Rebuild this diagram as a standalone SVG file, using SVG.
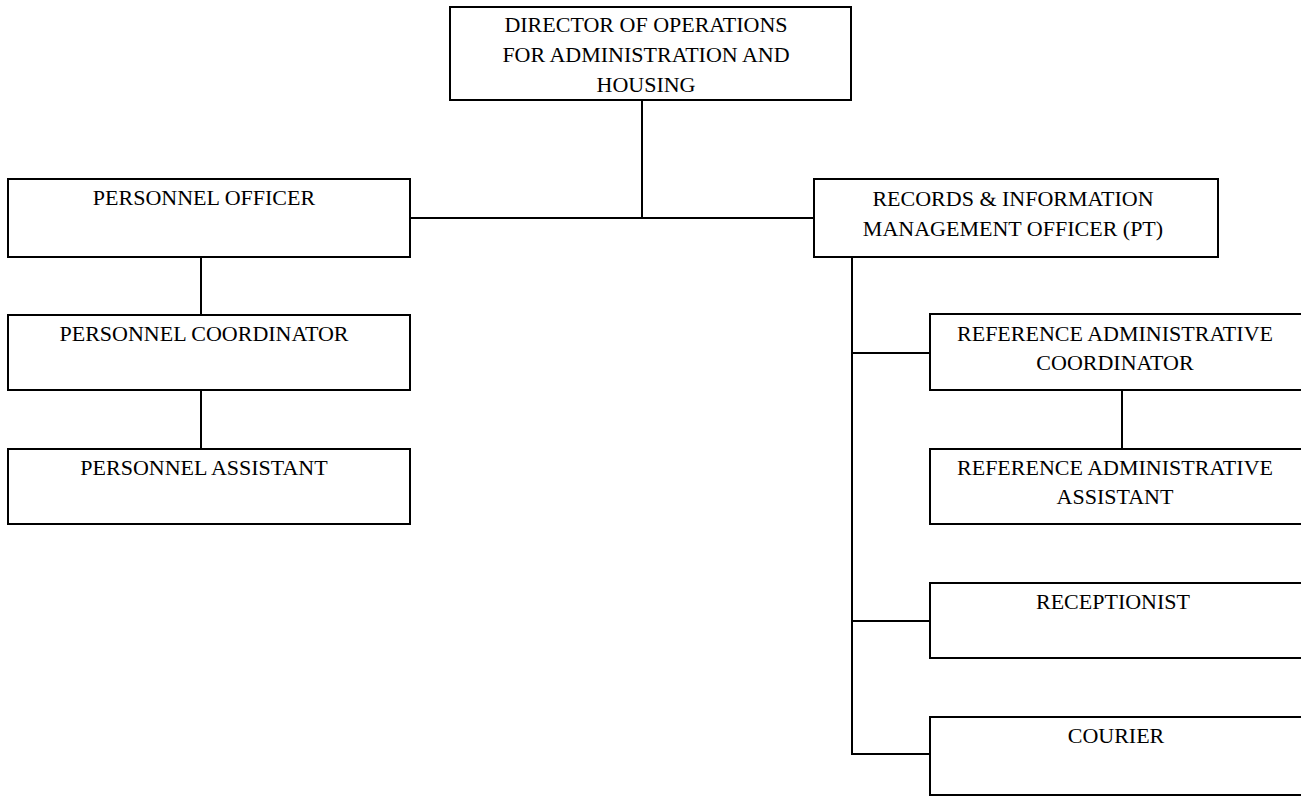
<svg xmlns="http://www.w3.org/2000/svg" width="1301" height="797" viewBox="0 0 1301 797">
  <style>
    .box { fill: #ffffff; stroke: #000000; stroke-width: 2; }
    .conn { fill: none; stroke: #000000; stroke-width: 2; }
    text { font-family: "Liberation Serif", "Times New Roman", serif; font-size: 22px; fill: #000000; text-anchor: middle; }
  </style>
  <rect x="0" y="0" width="1301" height="797" fill="#ffffff"/>
  <g id="connectors">
    <path class="conn" d="M642,100 V218 M410,218 H814"/>
    <path class="conn" d="M201,257 V315 M201,390 V449"/>
    <path class="conn" d="M852,257 V754 H930 M852,353 H930 M852,621 H930"/>
    <path class="conn" d="M1122,390 V449"/>
  </g>
  <g id="director">
    <rect class="box" x="450" y="7" width="401" height="93"/>
    <text x="646" y="32">DIRECTOR OF OPERATIONS</text>
    <text x="646" y="62">FOR ADMINISTRATION AND</text>
    <text x="646" y="92">HOUSING</text>
  </g>
  <g id="personnel-officer">
    <rect class="box" x="8" y="179" width="402" height="78"/>
    <text x="204" y="205">PERSONNEL OFFICER</text>
  </g>
  <g id="personnel-coordinator">
    <rect class="box" x="8" y="315" width="402" height="75"/>
    <text x="204" y="341">PERSONNEL COORDINATOR</text>
  </g>
  <g id="personnel-assistant">
    <rect class="box" x="8" y="449" width="402" height="75"/>
    <text x="204" y="475">PERSONNEL ASSISTANT</text>
  </g>
  <g id="records-officer">
    <rect class="box" x="814" y="179" width="404" height="78"/>
    <text x="1013" y="206">RECORDS &amp; INFORMATION</text>
    <text x="1013" y="236">MANAGEMENT OFFICER (PT)</text>
  </g>
  <g id="ref-admin-coordinator">
    <rect class="box" x="930" y="314" width="386" height="76"/>
    <text x="1115" y="341">REFERENCE ADMINISTRATIVE</text>
    <text x="1115" y="370">COORDINATOR</text>
  </g>
  <g id="ref-admin-assistant">
    <rect class="box" x="930" y="449" width="386" height="75"/>
    <text x="1115" y="475">REFERENCE ADMINISTRATIVE</text>
    <text x="1115" y="504">ASSISTANT</text>
  </g>
  <g id="receptionist">
    <rect class="box" x="930" y="583" width="386" height="75"/>
    <text x="1113" y="609">RECEPTIONIST</text>
  </g>
  <g id="courier">
    <rect class="box" x="930" y="717" width="386" height="78"/>
    <text x="1116" y="743">COURIER</text>
  </g>
</svg>
